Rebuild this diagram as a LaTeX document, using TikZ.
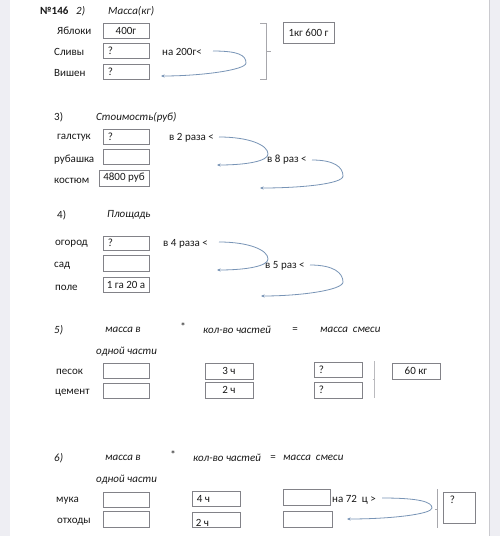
\documentclass[tikz,border=0pt]{standalone}
\usepackage{fontspec}
\setmainfont{Carlito}
\usetikzlibrary{arrows.meta,calc}
\definecolor{strip}{RGB}{238,238,243}
\definecolor{boxc}{RGB}{130,130,136}
\definecolor{ink}{RGB}{25,25,25}
\definecolor{arrc}{RGB}{120,148,182}
\tikzset{
  txt/.style={inner sep=0pt, text=ink, font=\fontsize{11}{13}\selectfont},
  itx/.style={txt, font=\fontsize{11}{13}\selectfont\itshape},
  box/.style={draw=boxc, line width=0.9pt, inner sep=0pt, text=ink, font=\fontsize{11}{13}\selectfont},
  arr/.style={draw=arrc, line width=0.8pt, -{Stealth[length=3.5pt,width=3pt]}},
  brk/.style={draw=boxc!70, line width=0.8pt}
}
\newcommand\cbox[6]{\node[box, minimum width={(#4-#2)*1pt}, minimum height={(#5-#3)*1pt}] (#1) at ({(#2+#4)/2},{(#3+#5)/2}) {#6};}
\newcommand\lbox[6]{\node[box, minimum width={(#4-#2)*1pt}, minimum height={(#5-#3)*1pt}] (#1) at ({(#2+#4)/2},{(#3+#5)/2}) {};
  \node[txt, anchor=west] (#1t) at ([xshift=5pt]#1.west) {#6};}
\begin{document}
\begin{tikzpicture}[x=1pt,y=-1pt]
\useasboundingbox (0,0) rectangle (500,536);
\fill[white] (0,0) rectangle (500,536);
\fill[strip] (0,0) rectangle (10,536);
\fill[strip] (489,0) rectangle (500,536);
\draw[strip!85!black, line width=0.4pt] (489.5,0) -- (489.5,536);

% ---- 2)
\node[txt, anchor=west] (n146) at (40,11) {\textbf{№146}};
\node[itx, anchor=west] (h2) at (76,11) {2)};
\node[itx, anchor=west] (h2t) at (108,11) {Масса(кг)};
\node[txt, anchor=west] (yab) at (57,31) {Яблоки};
\node[txt, anchor=west] (sli) at (54,52) {Сливы};
\node[txt, anchor=west] (vis) at (54,73) {Вишен};
\cbox{b21}{103}{23}{149}{38}{400г}
\lbox{b22}{103}{43}{149}{58}{?}
\lbox{b23}{103}{64}{149}{79}{?}
\node[txt, anchor=west] (na200) at (162,52) {на 200г<};
\coordinate (c2s) at (213,51);
\coordinate (c2m) at (246,63);
\coordinate (c2t) at (161,76);
\draw[arr] (c2s) .. controls +(25,0) and +(0,-8) .. (c2m) .. controls +(0,7) and +(40,0) .. (c2t);
\coordinate (k2a) at (260,23);
\coordinate (k2b) at (260,79);
\draw[brk] (k2a) -- ++(6,0) -- ++(0,56) -- (k2b);
\draw[brk] (266,51) -- ++(5,0);
\cbox{b24}{283}{22}{334}{43}{1кг 600 г}

% ---- 3)
\node[txt, anchor=west] (h3) at (54,117) {3)};
\node[itx, anchor=west] (h3t) at (96,117) {Стоимость(руб)};
\node[txt, anchor=west] (gal) at (57,138) {галстук};
\node[txt, anchor=west] (rub) at (54,160) {рубашка};
\node[txt, anchor=west] (kos) at (54,181) {костюм};
\lbox{b31}{103}{129}{149}{144}{?}
\cbox{b32}{103}{149}{149}{164}{}
\cbox{b33}{99}{170}{149}{186}{4800 руб}
\node[txt, anchor=west] (v2r) at (169,138) {в 2 раза <};
\node[txt, anchor=west] (v8r) at (267,160) {в 8 раз <};
\coordinate (c3s) at (219,137);
\coordinate (c3m) at (268,154);
\coordinate (c3t) at (217,165);
\draw[arr] (c3s) .. controls +(30,0) and +(0,-9) .. (c3m) .. controls +(0,7) and +(30,0) .. (c3t);
\coordinate (c4s) at (312,160);
\coordinate (c4m) at (343,176);
\coordinate (c4t) at (260,188);
\draw[arr] (c4s) .. controls +(22,0) and +(0,-9) .. (c4m) .. controls +(0,8) and +(40,0) .. (c4t);

% ---- 4)
\node[txt, anchor=west] (h4) at (57,215) {4)};
\node[itx, anchor=west] (h4t) at (107,215) {Площадь};
\node[txt, anchor=west] (ogo) at (55,244) {огород};
\node[txt, anchor=west] (sad) at (54,266) {сад};
\node[txt, anchor=west] (pol) at (55,288) {поле};
\lbox{b41}{103}{236}{149}{250}{?}
\cbox{b42}{103}{255}{149}{271}{}
\cbox{b43}{103}{277}{149}{292}{1 га 20 а}
\node[txt, anchor=west] (v4r) at (163,244) {в 4 раза <};
\node[txt, anchor=west] (v5r) at (265,266) {в 5 раз <};
\coordinate (c5s) at (219,242);
\coordinate (c5m) at (268,259);
\coordinate (c5t) at (217,270);
\draw[arr] (c5s) .. controls +(30,0) and +(0,-9) .. (c5m) .. controls +(0,7) and +(30,0) .. (c5t);
\coordinate (c6s) at (310,265);
\coordinate (c6m) at (343,282);
\coordinate (c6t) at (261,296);
\draw[arr] (c6s) .. controls +(24,0) and +(0,-9) .. (c6m) .. controls +(0,8) and +(40,0) .. (c6t);

% ---- 5)
\node[itx, anchor=west] (h5) at (54,330) {5)};
\node[itx, anchor=west] (h5a) at (105,330) {масса в};
\node[txt] (h5s) at (183,327) {*};
\node[itx, anchor=west] (h5b) at (203,330) {кол-во частей};
\node[txt] (h5e) at (295,330) {=};
\node[itx, anchor=west] (h5c) at (320,330) {масса\ \ смеси};
\node[itx, anchor=west] (h5d) at (96,352) {одной части};
\node[txt, anchor=west] (pes) at (56,372) {песок};
\node[txt, anchor=west] (cem) at (55,393) {цемент};
\cbox{b51}{103}{363}{149}{378}{}
\cbox{b52}{103}{383}{149}{398}{}
\cbox{b53}{205}{363}{253}{379}{3 ч}
\cbox{b54}{205}{382}{253}{398}{2 ч}
\lbox{b55}{314}{362}{362}{377}{?}
\lbox{b56}{314}{382}{362}{398}{?}
\coordinate (k5a) at (374.5,361);
\coordinate (k5b) at (374.5,398);
\draw[brk, draw=boxc!55] (k5a) -- (k5b);
\draw[brk, draw=boxc!55] (372.5,379) -- (374.5,379);
\cbox{b57}{392}{363}{440}{379}{60 кг}

% ---- 6)
\node[itx, anchor=west] (h6) at (54,458) {6)};
\node[itx, anchor=west] (h6a) at (105,458) {масса в};
\node[txt] (h6s) at (173,455) {*};
\node[itx, anchor=west] (h6b) at (193,458) {кол-во частей};
\node[txt] (h6e) at (273,458) {=};
\node[itx, anchor=west] (h6c) at (283,458) {масса\ \ смеси};
\node[itx, anchor=west] (h6d) at (96,480) {одной части};
\node[txt, anchor=west] (muk) at (56,501) {мука};
\node[txt, anchor=west] (otx) at (57,522) {отходы};
\cbox{b61}{103}{492}{149}{507}{}
\cbox{b62}{103}{511}{149}{527}{}
\lbox{b63}{192}{491}{240}{506}{4 ч}
\node[box, minimum width=48pt, minimum height=15pt] (b64) at (216,519.5) {};
\node[txt, anchor=south west] (b64t) at ([xshift=4pt,yshift=0.5pt]b64.south west) {2 ч};
\cbox{b65}{283}{489}{330}{505}{}
\cbox{b66}{283}{511}{332}{527}{}
\node[txt, anchor=west] (na72) at (332,500) {на 72\ \ ц >};
\coordinate (c7s) at (382,498);
\coordinate (c7m) at (432,508);
\coordinate (c7t) at (347,519);
\draw[arr] (c7s) .. controls +(38,0) and +(0,-6) .. (c7m) .. controls +(0,6) and +(45,0) .. (c7t);
\coordinate (k6a) at (437,489);
\coordinate (k6b) at (437,528);
\draw[brk] (k6a) -- (k6b);
\draw[brk] (435,509) -- (437,509);
\node[box, minimum width=32pt, minimum height=31pt] (b67) at (459,507.5) {};
\node[txt, anchor=north west] (b67t) at ([xshift=7pt,yshift=-4pt]b67.north west) {?};
\end{tikzpicture}
\end{document}
